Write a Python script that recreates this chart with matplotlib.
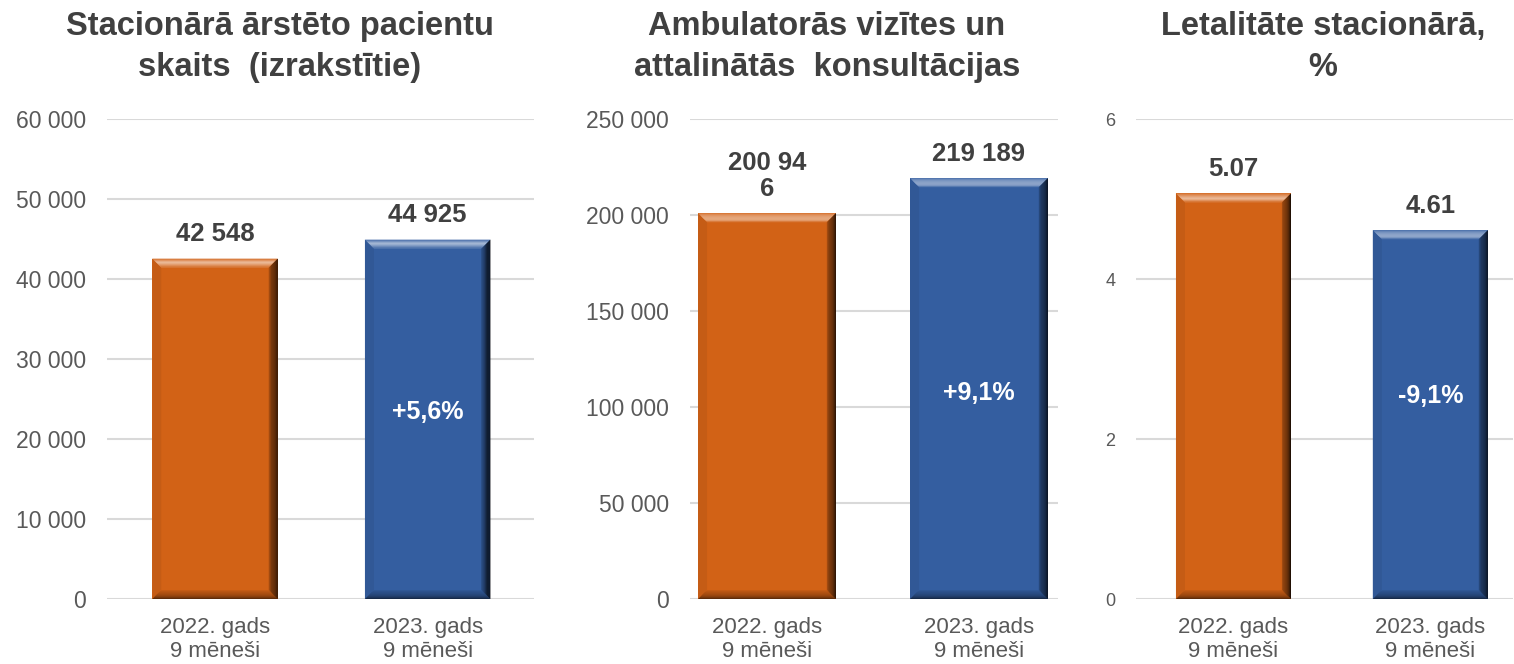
import numpy as np
from matplotlib import pyplot as plt
from matplotlib.patches import Polygon
from matplotlib.colors import to_rgb

plt.rcParams['font.family'] = ['Liberation Sans', 'DejaVu Sans']

categories = ['2022. gads\n9 mēneši', '2023. gads\n9 mēneši']
titles = ['Stacionārā ārstēto pacientu\nskaits  (izrakstītie)',
          'Ambulatorās vizītes un\nattalinātās  konsultācijas',
          'Letalitāte stacionārā,\n%']
patients = [42548, 44925]
visits = [200946, 219189]
lethality = [5.07, 4.61]
value_labels = [['42 548', '44 925'], ['200 94\n6', '219 189'], ['5.07', '4.61']]
changes = ['+5,6%', '+9,1%', '-9,1%']
y_ticks = [[0, 10000, 20000, 30000, 40000, 50000, 60000],
           [0, 50000, 100000, 150000, 200000, 250000],
           [0, 2, 4, 6]]
tick_labels = [['0', '10 000', '20 000', '30 000', '40 000', '50 000', '60 000'],
               ['0', '50 000', '100 000', '150 000', '200 000', '250 000'],
               ['0', '2', '4', '6']]

W, H = 1514, 664
ORANGE = '#D26216'
BLUE = '#345EA0'
GRID = '#D9D9D9'
TXT = '#404040'
TICK = '#595959'

# pixel layout of each panel
layout = [
    dict(left=107, right=534, xlim=(-0.508, 1.50), width=0.59, tick_size=16.5, pct=0.52),
    dict(left=690, right=1058, xlim=(-0.363, 1.373), width=0.65, tick_size=16.5, pct=0.49),
    dict(left=1136, right=1513, xlim=(-0.495, 1.42), width=0.584, tick_size=13, pct=0.55),
]
title_x = [280, 827, 1323]
y_bottom, y_top = 599, 119


def mix(c, other, t):
    c = np.array(to_rgb(c))
    o = np.array(to_rgb(other))
    return tuple(c * (1 - t) + o * t)


def bevel_bar(ax, bar, color):
    x0, y0 = bar.get_x(), bar.get_y()
    x1, y1 = x0 + bar.get_width(), y0 + bar.get_height()
    p0 = ax.transData.transform((0, 0))
    p1 = ax.transData.transform((1, 1))
    bx = 9.0 / (p1[0] - p0[0])
    by = 9.0 / (p1[1] - p0[1])
    n = 8
    # left bevel, faint
    ax.add_patch(Polygon([(x0, y0), (x0, y1), (x0 + bx, y1 - by), (x0 + bx, y0 + by)],
                         closed=True, fc=mix(color, 'black', 0.06), ec='none', zorder=3))
    # top bevel, light stripe in the middle
    for i in range(n):
        a, c = i / n, (i + 1) / n
        t = 0.45 * np.sin(np.pi * (a + c) / 2) + 0.1
        ax.add_patch(Polygon([(x0 + bx * a, y1 - by * a), (x1 - bx * a, y1 - by * a),
                              (x1 - bx * c, y1 - by * c), (x0 + bx * c, y1 - by * c)],
                             closed=True, fc=mix(color, 'white', t), ec='none', zorder=3))
    # bottom bevel, dark at the edge
    for i in range(n):
        a, c = i / n, (i + 1) / n
        ax.add_patch(Polygon([(x0 + bx * a, y0 + by * a), (x1 - bx * a, y0 + by * a),
                              (x1 - bx * c, y0 + by * c), (x0 + bx * c, y0 + by * c)],
                             closed=True, fc=mix(color, 'black', 0.55 * (1 - a)), ec='none',
                             zorder=3))
    # right bevel, graded to dark
    for i in range(n):
        a, c = i / n, (i + 1) / n
        ax.add_patch(Polygon([(x1 - bx * (1 - a), y0 + by * (1 - a)),
                              (x1 - bx * (1 - a), y1 - by * (1 - a)),
                              (x1 - bx * (1 - c), y1 - by * (1 - c)),
                              (x1 - bx * (1 - c), y0 + by * (1 - c))],
                             closed=True, fc=mix(color, 'black', 0.15 + 0.75 * c), ec='none',
                             zorder=3))


fig = plt.figure(figsize=(W / 100, H / 100), dpi=100)
datasets = [patients, visits, lethality]

for i, (vals, lay) in enumerate(zip(datasets, layout)):
    ax = fig.add_axes([lay['left'] / W, (H - y_bottom) / H,
                       (lay['right'] - lay['left']) / W, (y_bottom - y_top) / H])
    ax.set_xlim(*lay['xlim'])
    ax.set_ylim(y_ticks[i][0], y_ticks[i][-1])
    xs = np.arange(len(vals))
    bars = ax.bar(xs, vals, width=lay['width'], color=[ORANGE, BLUE], zorder=2,
                  edgecolor='none')
    for bar, col in zip(bars, [ORANGE, BLUE]):
        bevel_bar(ax, bar, col)
    for x, v, lab in zip(xs, vals, value_labels[i]):
        ax.annotate(lab, (x, v), xytext=(0, 9), textcoords='offset points',
                    ha='center', va='bottom', fontsize=18.5, fontweight='bold',
                    color=TXT, linespacing=1.1)
    ax.text(xs[1], vals[1] * lay['pct'], changes[i], ha='center', va='center',
            fontsize=18, fontweight='bold', color='white', zorder=5)
    ax.set_yticks(y_ticks[i])
    ax.set_yticklabels(tick_labels[i])
    ax.set_xticks(xs)
    ax.set_xticklabels(categories, fontsize=16, color=TICK, linespacing=1.2)
    ax.tick_params(axis='y', length=0, pad=15, labelsize=lay['tick_size'], labelcolor=TICK)
    ax.tick_params(axis='x', length=0, pad=13)
    ax.grid(axis='y', color=GRID, linewidth=1.5, zorder=0)
    ax.set_axisbelow(True)
    for s in ax.spines.values():
        s.set_visible(False)
    fig.text(title_x[i] / W, 1 - 47 / H, titles[i], ha='center', va='center',
             fontsize=23.5, fontweight='bold', color=TXT, linespacing=1.38)

fig.savefig('out.png', dpi=100)
